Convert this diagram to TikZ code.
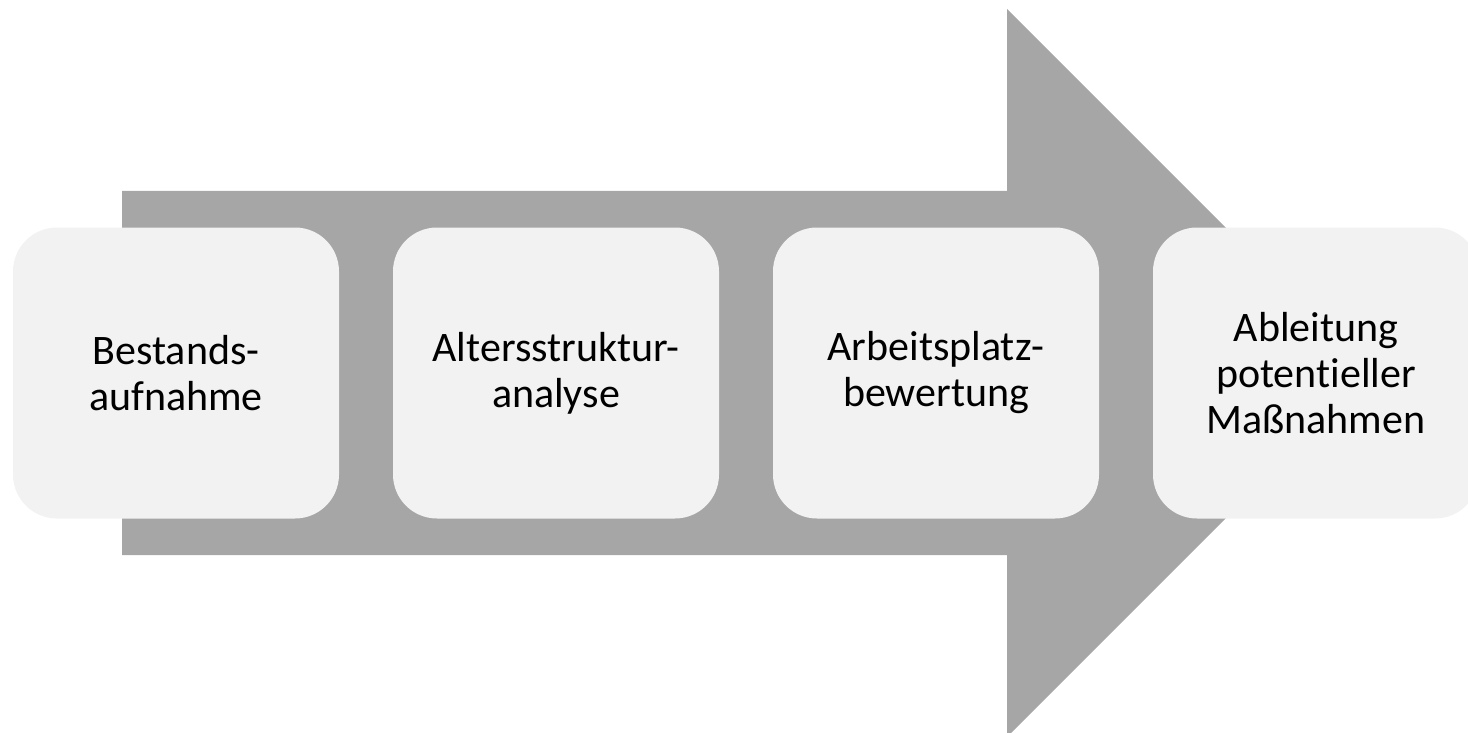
\documentclass[tikz,border=0pt]{standalone}
\usepackage{fontspec}
\setmainfont[Ligatures=NoCommon]{Carlito}
\definecolor{arrowgray}{HTML}{A6A6A6}
\definecolor{boxfill}{HTML}{F2F2F2}
\begin{document}
\begin{tikzpicture}[x=0.5pt,y=-0.5pt,
  stepbox/.style={draw=none, fill=boxfill, rounded corners=22pt,
    minimum width=163pt, minimum height=145.5pt, inner sep=0pt,
    align=center, text=black, font=\fontsize{21}{23}\selectfont}]
\useasboundingbox (0,0) rectangle (1468,733);
\clip (0,0) rectangle (1468,733);
\fill[arrowgray] (122,191) -- (1007,191) -- (1007,9) -- (1371,373)
  -- (1007,737) -- (1007,555) -- (122,555) -- cycle;
\node[stepbox] (s1) at (176,373) {Bestands-\\aufnahme};
\node[stepbox] (s2) at (556,373) {Altersstruktur-\\analyse};
\node[stepbox] (s3) at (936,373) {Arbeitsplatz-\\bewertung};
\node[stepbox] (s4) at (1316,373) {Ableitung\\potentieller\\Maßnahmen};
\end{tikzpicture}
\end{document}
